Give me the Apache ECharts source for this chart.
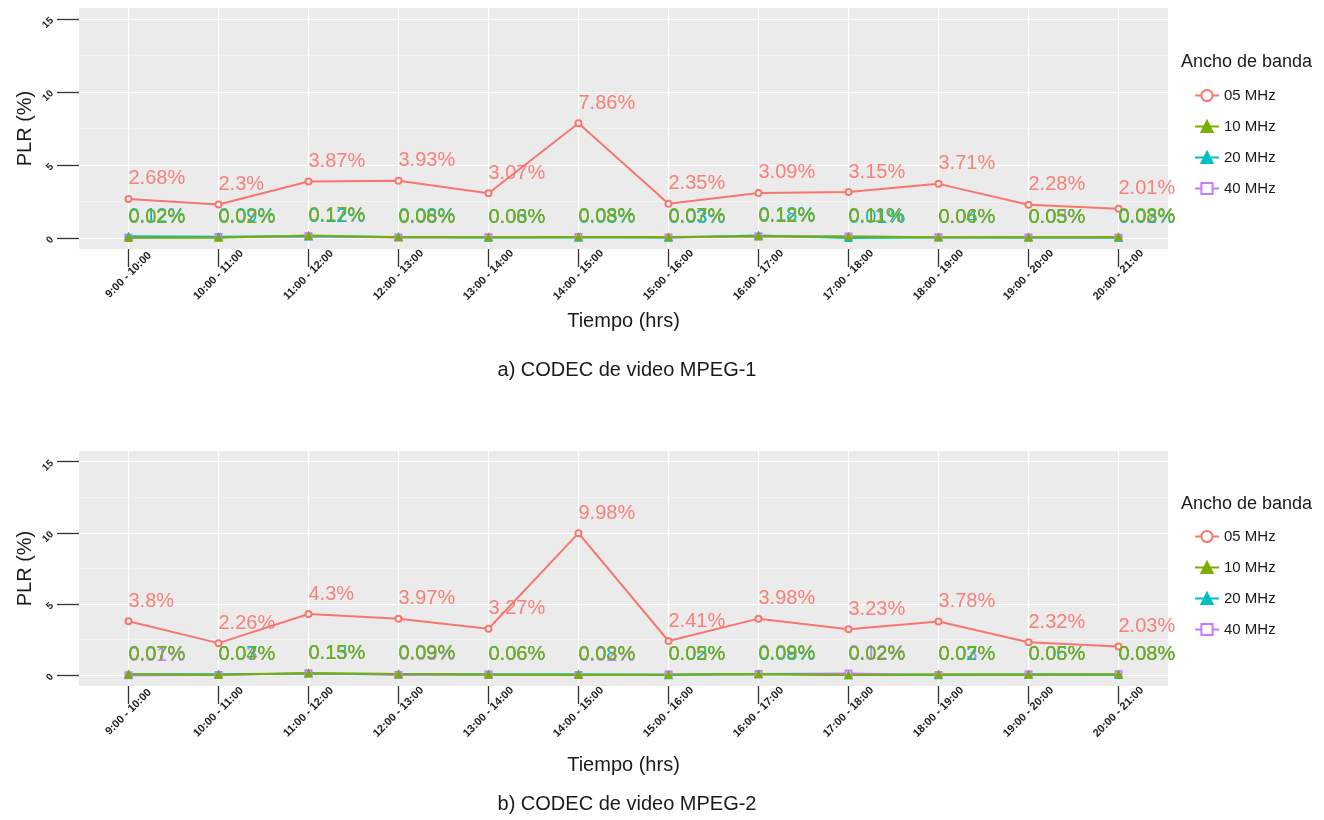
<!DOCTYPE html>
<html>
<head>
<meta charset="utf-8">
<script src="https://cdn.jsdelivr.net/npm/echarts@6/dist/echarts.min.js"></script>
<style>
  html, body { margin: 0; padding: 0; background: #ffffff; }
  #chart { width: 1324px; height: 820px; }
</style>
</head>
<body>
<div id="chart"></div>
<script>
// Hour slots on the x axis
const hours = ['9:00 - 10:00', '10:00 - 11:00', '11:00 - 12:00', '12:00 - 13:00',
  '13:00 - 14:00', '14:00 - 15:00', '15:00 - 16:00', '16:00 - 17:00',
  '17:00 - 18:00', '18:00 - 19:00', '19:00 - 20:00', '20:00 - 21:00'];
const yTicks = [0, 5, 10, 15];
const bandNames = ['05 MHz', '10 MHz', '20 MHz', '40 MHz'];

// PLR (%) per bandwidth, MPEG-1
const mpeg1_05 = [2.68, 2.3, 3.87, 3.93, 3.07, 7.86, 2.35, 3.09, 3.15, 3.71, 2.28, 2.01];
const mpeg1_10 = [0.02, 0.02, 0.17, 0.06, 0.06, 0.08, 0.07, 0.12, 0.11, 0.06, 0.05, 0.08];
const mpeg1_20 = [0.12, 0.09, 0.12, 0.08, 0.03, 0.03, 0.03, 0.18, 0.01, 0.04, 0.05, 0.03];
const mpeg1_40 = [0.02, 0.07, 0.12, 0.03, 0.06, 0.08, 0.03, 0.12, 0.11, 0.06, 0.03, 0.02];

// PLR (%) per bandwidth, MPEG-2
const mpeg2_05 = [3.8, 2.26, 4.3, 3.97, 3.27, 9.98, 2.41, 3.98, 3.23, 3.78, 2.32, 2.03];
const mpeg2_10 = [0.07, 0.04, 0.15, 0.09, 0.06, 0.03, 0.05, 0.09, 0.02, 0.07, 0.05, 0.08];
const mpeg2_20 = [0.07, 0.07, 0.13, 0.09, 0.06, 0.08, 0.02, 0.08, 0.02, 0.02, 0.06, 0.03];
const mpeg2_40 = [0.01, 0.03, 0.15, 0.03, 0.06, 0.02, 0.05, 0.09, 0.12, 0.03, 0.05, 0.08];

const FONT = '"Liberation Sans", Arial, Helvetica, sans-serif';
const colors = { '05 MHz': '#F8766D', '10 MHz': '#7CAE00', '20 MHz': '#00BFC4', '40 MHz': '#C77CFF' };
const labelColors = { '05 MHz': 'rgba(248,118,109,0.9)', '10 MHz': '#7CAE00', '20 MHz': '#00BFC4', '40 MHz': '#C77CFF' };
const symbols = {
  '05 MHz': ['emptyCircle', 6],
  '10 MHz': ['triangle', 7],
  '20 MHz': ['triangle', 7],
  '40 MHz': ['emptyRect', 6]
};

const idx = hours.map((_, i) => i);
const toPoints = arr => arr.map((v, i) => [i, v]);

function lineSeries(name, values, gi) {
  return {
    name: name,
    type: 'line',
    xAxisIndex: gi,
    yAxisIndex: gi,
    data: toPoints(values),
    symbol: symbols[name][0],
    symbolSize: symbols[name][1],
    color: colors[name],
    lineStyle: { width: 2, color: colors[name] },
    itemStyle: { color: colors[name], borderColor: colors[name], borderWidth: 1.2 },
    label: {
      show: true,
      position: 'top',
      distance: 6,
      align: 'left',
      fontFamily: FONT,
      fontSize: 20,
      color: labelColors[name],
      formatter: p => p.value[1] + '%'
    },
    emphasis: { disabled: true },
    animation: false
  };
}

// Panel grid lines (white major / faint minor), drawn on the panel background
function gridLines(gi) {
  const data = [];
  idx.forEach(i => data.push({ xAxis: i, lineStyle: { color: '#ffffff', width: 1.2 } }));
  [2.5, 7.5, 12.5].forEach(v => data.push({ yAxis: v, lineStyle: { color: '#f6f6f6', width: 0.6 } }));
  yTicks.forEach(v => data.push({ yAxis: v, lineStyle: { color: '#ffffff', width: 1.2 } }));
  return {
    type: 'line',
    xAxisIndex: gi,
    yAxisIndex: gi,
    data: [],
    silent: true,
    animation: false,
    markLine: {
      silent: true,
      z: 1,
      symbol: ['none', 'none'],
      label: { show: false },
      animation: false,
      lineStyle: { type: 'solid' },
      data: data
    }
  };
}

function xAxisDef(gi, gap) {
  return {
    type: 'value',
    gridIndex: gi,
    min: -0.55,
    max: 11.55,
    name: 'Tiempo (hrs)',
    nameLocation: 'middle',
    nameGap: gap,
    nameTextStyle: { fontFamily: FONT, fontSize: 20, color: '#1a1a1a' },
    axisLine: { show: false, onZero: false },
    splitLine: { show: false },
    axisTick: { show: true, customValues: idx, length: 18, lineStyle: { color: '#333', width: 1.3 } },
    axisLabel: {
      customValues: idx,
      formatter: v => hours[Math.round(v)],
      rotate: 45,
      align: 'center',
      verticalAlign: 'middle',
      margin: 26,
      fontFamily: FONT,
      fontSize: 11,
      fontWeight: 'bold',
      color: '#222'
    }
  };
}

function yAxisDef(gi) {
  return {
    type: 'value',
    gridIndex: gi,
    min: -0.75,
    max: 15.75,
    name: 'PLR (%)',
    nameLocation: 'middle',
    nameGap: 44,
    nameMoveOverlap: false,
    nameRotate: 90,
    nameTextStyle: { fontFamily: FONT, fontSize: 20, color: '#1a1a1a' },
    axisLine: { show: false, onZero: false },
    splitLine: { show: false },
    axisTick: { show: true, customValues: yTicks, length: 22, lineStyle: { color: '#333', width: 1.3 } },
    axisLabel: {
      customValues: yTicks,
      rotate: 45,
      margin: 27,
      fontFamily: FONT,
      fontSize: 10,
      fontWeight: 'bold',
      color: '#222'
    }
  };
}

function legendDef(top) {
  return {
    data: bandNames,
    orient: 'vertical',
    left: 1189,
    top: top,
    itemWidth: 24,
    itemHeight: 14,
    itemGap: 16,
    selectedMode: false,
    textStyle: { fontFamily: FONT, fontSize: 15, color: '#1a1a1a' }
  };
}

const chart = echarts.init(document.getElementById('chart'), null, { renderer: 'canvas' });
const option = {
  backgroundColor: '#ffffff',
  animation: false,
  textStyle: { fontFamily: FONT },
  title: [
    { text: 'Ancho de banda', left: 1176, top: 48, textStyle: { fontFamily: FONT, fontSize: 18, fontWeight: 'normal', color: '#1a1a1a' } },
    { text: 'Ancho de banda', left: 1176, top: 490, textStyle: { fontFamily: FONT, fontSize: 18, fontWeight: 'normal', color: '#1a1a1a' } },
    { text: 'a) CODEC de video MPEG-1', left: 622, textAlign: 'center', top: 355, textStyle: { fontFamily: FONT, fontSize: 20, fontWeight: 'normal', color: '#1a1a1a' } },
    { text: 'b) CODEC de video MPEG-2', left: 622, textAlign: 'center', top: 789, textStyle: { fontFamily: FONT, fontSize: 20, fontWeight: 'normal', color: '#1a1a1a' } }
  ],
  legend: [legendDef(83), legendDef(524)],
  grid: [
    { left: 79, top: 8, width: 1089, height: 241, show: true, backgroundColor: '#EBEBEB', borderWidth: 0 },
    { left: 79, top: 451, width: 1089, height: 235, show: true, backgroundColor: '#EBEBEB', borderWidth: 0 }
  ],
  xAxis: [xAxisDef(0, 62), xAxisDef(1, 69)],
  yAxis: [yAxisDef(0), yAxisDef(1)],
  series: [
    gridLines(0),
    gridLines(1),
    lineSeries('05 MHz', mpeg1_05, 0),
    lineSeries('40 MHz', mpeg1_40, 0),
    lineSeries('20 MHz', mpeg1_20, 0),
    lineSeries('10 MHz', mpeg1_10, 0),
    lineSeries('05 MHz', mpeg2_05, 1),
    lineSeries('40 MHz', mpeg2_40, 1),
    lineSeries('20 MHz', mpeg2_20, 1),
    lineSeries('10 MHz', mpeg2_10, 1)
  ]
};
chart.setOption(option);
</script>
</body>
</html>
